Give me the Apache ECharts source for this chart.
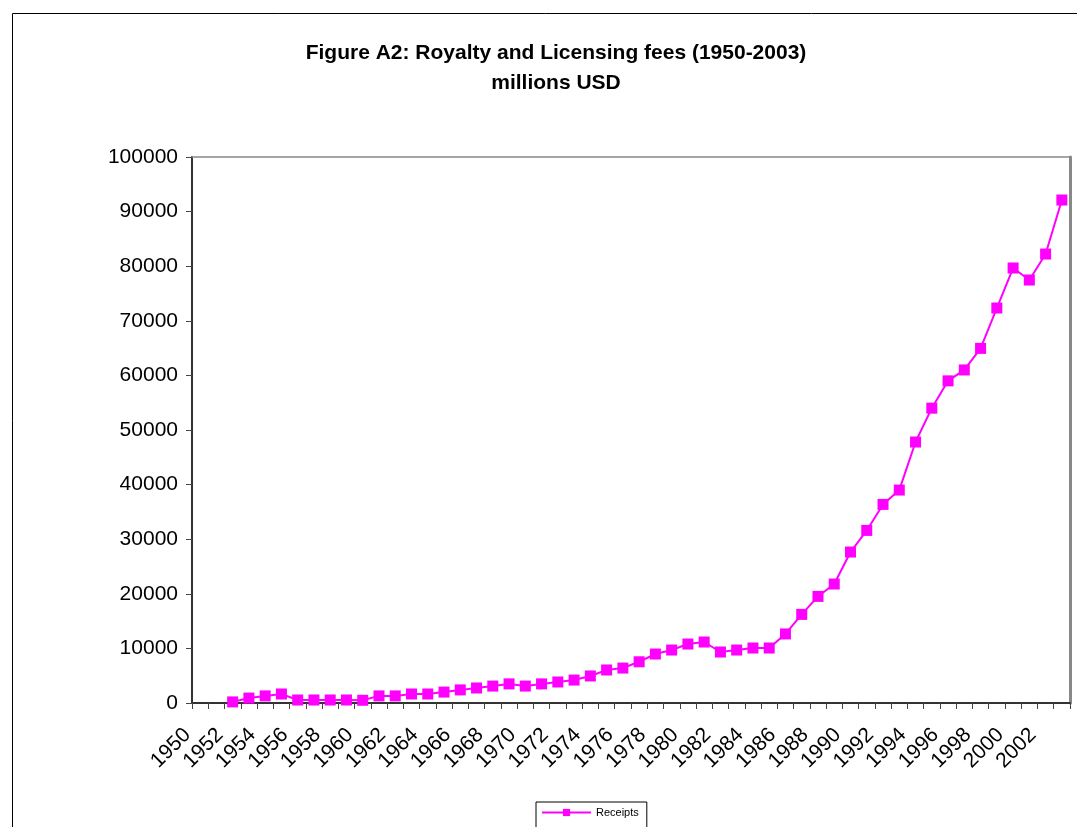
<!DOCTYPE html>
<html>
<head>
<meta charset="utf-8">
<script src="https://cdn.jsdelivr.net/npm/echarts@6/dist/echarts.min.js"></script>
<style>
html,body{margin:0;padding:0;background:#fff;}
#chart{width:1077px;height:827px;}
</style>
</head>
<body>
<div id="chart"></div>
<script>
var years = [];
for (var y = 1950; y <= 2003; y++) years.push(String(y));

var receipts = [
  null, null,
  200, 900, 1300, 1650, 550, 550, 550, 550, 500, 1300,
  1300, 1650, 1650, 2000, 2400, 2750, 3100, 3500, 3100, 3500,
  3850, 4200, 4950, 6050, 6400, 7550, 8970, 9700, 10800, 11170,
  9340, 9700, 10070, 10070, 12650, 16230, 19520, 21790, 27650, 31610,
  36370, 39000, 47800, 54000, 59000, 61000, 64950, 72340, 79670, 77470,
  82230, 92120
];

var titleText = 'Figure A2: Royalty and Licensing fees (1950-2003)\nmillions USD';
var seriesName = 'Receipts';

var FONT = '"Liberation Sans", Arial, sans-serif';
var chart = echarts.init(document.getElementById('chart'), null, {renderer: 'canvas'});
chart.setOption({
  backgroundColor: '#fff',
  animation: false,
  title: {
    text: titleText,
    left: 551,
    top: 33,
    textAlign: 'center',
    textStyle: {fontFamily: FONT, fontSize: 21, fontWeight: 'bold', color: '#000', lineHeight: 30}
  },
  graphic: [{
    type: 'rect',
    shape: {x: 12.5, y: 13.5, width: 1200, height: 1000},
    style: {fill: 'none', stroke: '#000', lineWidth: 1},
    silent: true,
    z: -10
  }],
  legend: {
    data: [seriesName],
    left: 536,
    top: 802,
    orient: 'horizontal',
    borderColor: '#000',
    borderWidth: 1,
    padding: [5, 8, 30, 5],
    itemWidth: 49,
    itemHeight: 9,
    textStyle: {fontFamily: FONT, fontSize: 11, color: '#000'}
  },
  grid: {left: 192, top: 157, right: 7, bottom: 124, containLabel: false, show: false},
  xAxis: [{
    type: 'category',
    data: years,
    boundaryGap: true,
    axisLine: {show: true, lineStyle: {color: '#333', width: 2}},
    axisTick: {show: true, interval: 0, length: 6, inside: false, lineStyle: {color: '#444', width: 1}},
    axisLabel: {
      interval: 1, rotate: 45, margin: 16, padding: [0, 18, 0, 0],
      fontFamily: FONT, fontSize: 21, color: '#000'
    },
    splitLine: {show: false}
  }, {
    type: 'category',
    data: years,
    position: 'top',
    axisLine: {show: true, onZero: false, lineStyle: {color: '#888', width: 1.5}},
    axisTick: {show: false},
    axisLabel: {show: false}
  }],
  yAxis: [{
    type: 'value',
    min: 0,
    max: 100000,
    interval: 10000,
    axisLine: {show: true, lineStyle: {color: '#333', width: 2}},
    axisTick: {show: true, length: 6, lineStyle: {color: '#444', width: 1}},
    axisLabel: {
      margin: 14, fontFamily: FONT, fontSize: 21, color: '#000',
      formatter: function (v) { return String(v); }
    },
    splitLine: {show: false}
  }, {
    type: 'value',
    min: 0,
    max: 100000,
    interval: 10000,
    position: 'right',
    axisLine: {show: true, onZero: false, lineStyle: {color: '#888', width: 3}},
    axisTick: {show: false},
    axisLabel: {show: false},
    splitLine: {show: false}
  }],
  series: [{
    name: seriesName,
    type: 'line',
    data: receipts,
    connectNulls: false,
    symbol: 'rect',
    symbolSize: 11,
    showAllSymbol: true,
    lineStyle: {color: '#ff00ff', width: 2},
    itemStyle: {color: '#ff00ff'},
    z: 5
  }]
});
</script>
</body>
</html>
